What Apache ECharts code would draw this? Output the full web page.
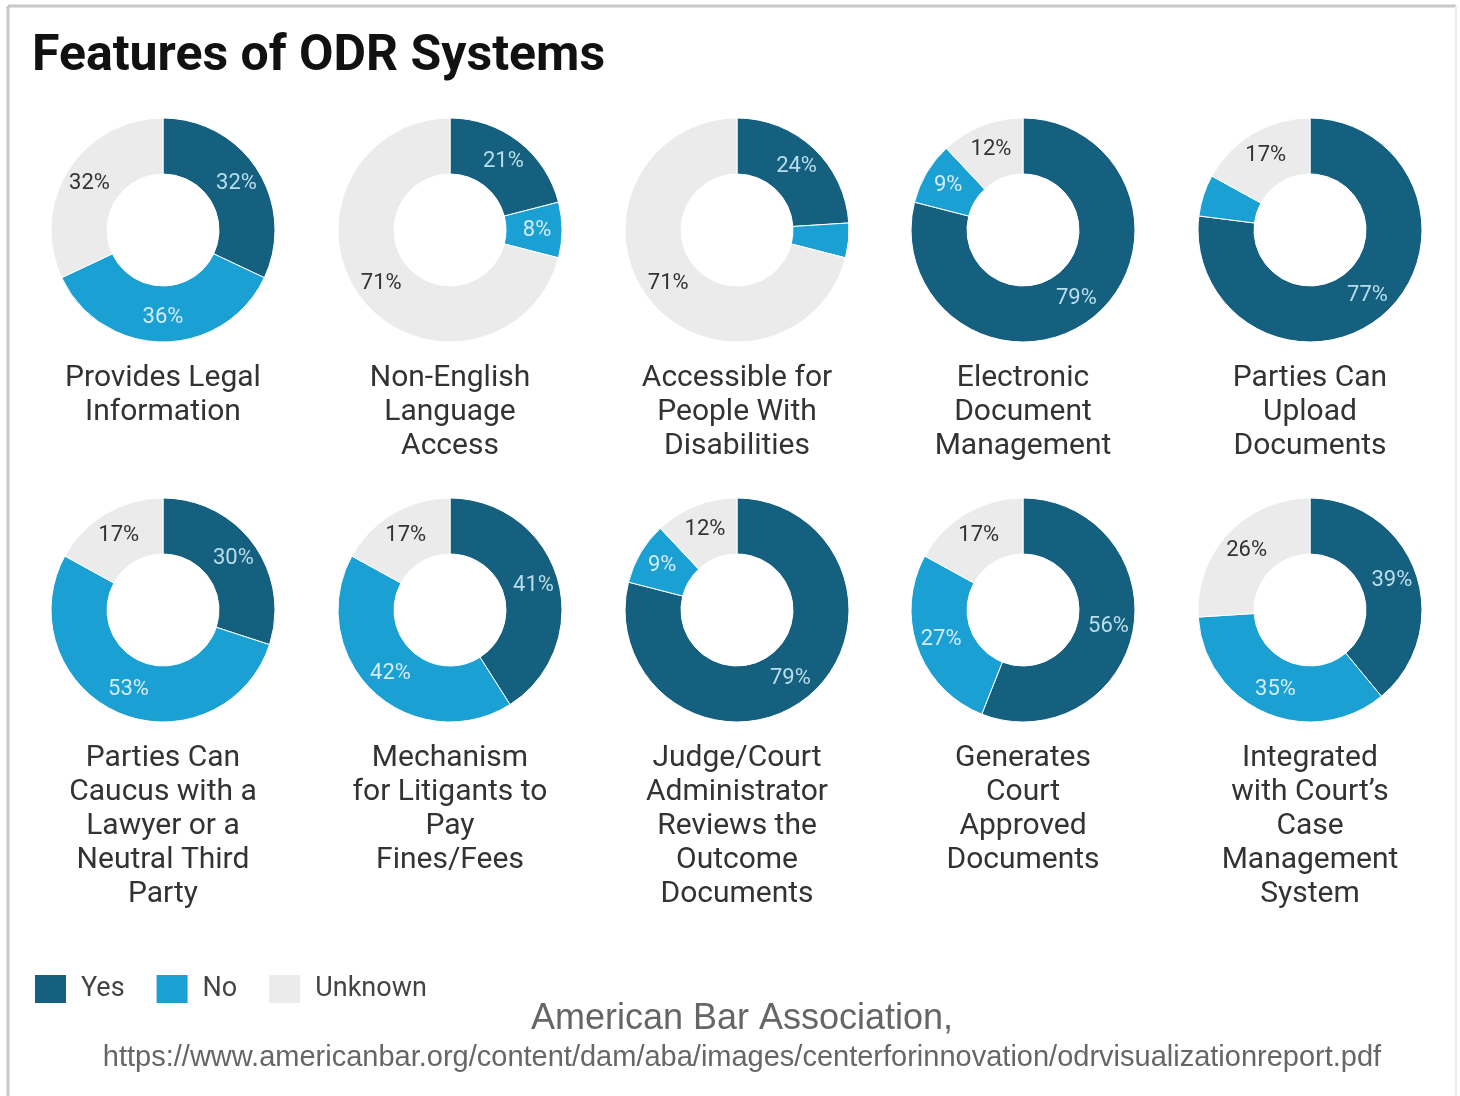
<!DOCTYPE html>
<html>
<head>
<meta charset="utf-8">
<script src="https://cdn.jsdelivr.net/npm/echarts@6/dist/echarts.min.js"></script>
<style>
html,body{margin:0;padding:0;background:#fff;}
#chart{width:1460px;height:1096px;}
</style>
</head>
<body>
<div id="chart"></div>
<script>
const titleText = 'Features of ODR Systems';
const seriesNames = ['Yes', 'No', 'Unknown'];
const categories = [
  'Provides Legal\nInformation',
  'Non-English\nLanguage\nAccess',
  'Accessible for\nPeople With\nDisabilities',
  'Electronic\nDocument\nManagement',
  'Parties Can\nUpload\nDocuments',
  'Parties Can\nCaucus with a\nLawyer or a\nNeutral Third\nParty',
  'Mechanism\nfor Litigants to\nPay\nFines/Fees',
  'Judge/Court\nAdministrator\nReviews the\nOutcome\nDocuments',
  'Generates\nCourt\nApproved\nDocuments',
  'Integrated\nwith Court\u2019s\nCase\nManagement\nSystem'
];
const yesValues     = [32, 21, 24, 79, 77, 30, 41, 79, 56, 39];
const noValues      = [36,  8,  5,  9,  6, 53, 42,  9, 27, 35];
const unknownValues = [32, 71, 71, 12, 17, 17, 17, 12, 17, 26];
const sourceLine1 = 'American Bar Association,';
const sourceLine2 = 'https://www.americanbar.org/content/dam/aba/images/centerforinnovation/odrvisualizationreport.pdf';

const colors = ['#16607f', '#1ba0d3', '#ebebeb'];
const labelColors = ['#b9deeb', '#d2edf6', '#333333'];
const colX = [163, 450, 737, 1023, 1310];
const rowY = [230, 610];
const labelTop = [361, 741];

const chart = echarts.init(document.getElementById('chart'));
const series = [];
const titles = [{
  text: titleText, left: 32, top: 32, padding: 0,
  textStyle: {fontFamily: 'Roboto', fontWeight: 'bold', fontSize: 50, color: '#111'}
}];
categories.forEach((cat, i) => {
  const row = Math.floor(i / 5), col = i % 5;
  const vals = [yesValues[i], noValues[i], unknownValues[i]];
  series.push({
    type: 'pie',
    name: cat,
    center: [colX[col], rowY[row]],
    radius: [56, 112],
    startAngle: 90,
    clockwise: true,
    avoidLabelOverlap: false,
    silent: true,
    itemStyle: {borderColor: '#ffffff', borderWidth: 1},
    label: {show: true, position: 'inside', fontFamily: 'Roboto', fontSize: 22},
    labelLine: {show: false},
    data: vals.map((v, k) => ({
      name: seriesNames[k],
      value: v,
      itemStyle: {color: colors[k]},
      label: {color: labelColors[k], formatter: v >= 8 ? v + '%' : ''}
    }))
  });
  titles.push({
    text: cat,
    left: colX[col],
    top: labelTop[row],
    padding: 0,
    textAlign: 'center',
    textStyle: {fontFamily: 'Roboto', fontWeight: 'normal', fontSize: 30, lineHeight: 34, color: '#333'}
  });
});

chart.setOption({
  animation: false,
  color: colors,
  title: titles,
  legend: {
    data: seriesNames,
    left: 33, top: 973, padding: 0,
    icon: 'rect',
    itemWidth: 33, itemHeight: 30,
    itemGap: 30,
    textStyle: {fontFamily: 'Roboto', fontSize: 27, color: '#444', padding: [0, 0, 0, 9]}
  },
  graphic: [
    {type: 'line', shape: {x1: 8, y1: 6, x2: 1456, y2: 6}, style: {stroke: '#c8c8c8', lineWidth: 3}},
    {type: 'line', shape: {x1: 8, y1: 6, x2: 8, y2: 1096}, style: {stroke: '#c8c8c8', lineWidth: 3}},
    {type: 'line', shape: {x1: 1456, y1: 6, x2: 1456, y2: 1096}, style: {stroke: '#eeeeee', lineWidth: 2}},
    {type: 'text', x: 742, y: 1019, style: {text: sourceLine1, textAlign: 'center', textVerticalAlign: 'middle', font: '36px "Liberation Sans"', fill: '#666'}},
    {type: 'text', x: 742, y: 1058, style: {text: sourceLine2, textAlign: 'center', textVerticalAlign: 'middle', font: '29px "Liberation Sans"', fill: '#666'}}
  ],
  series: series
});
</script>
</body>
</html>
